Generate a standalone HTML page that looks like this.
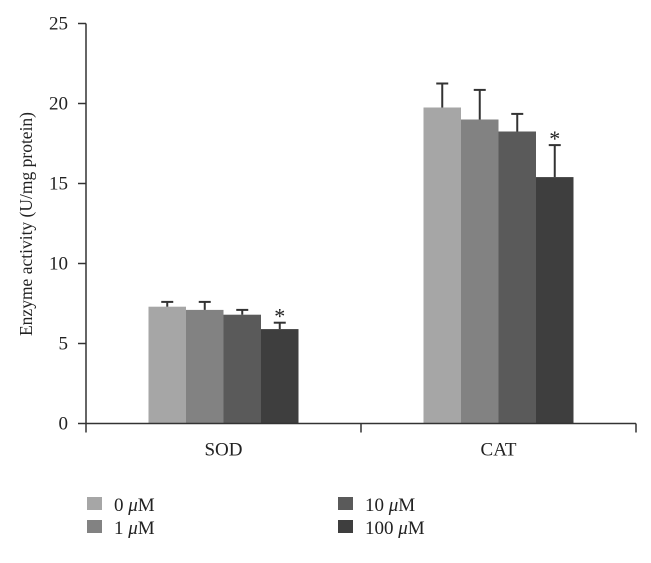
<!DOCTYPE html>
<html><head><meta charset="utf-8"><style>
body{margin:0;background:#fff;}
svg text{font-family:"Liberation Serif",serif;fill:#222;}
</style></head><body>
<svg id="c" width="651" height="558" xmlns="http://www.w3.org/2000/svg"></svg>
<script>
const categories=["SOD","CAT"];
const seriesNames=["0 ","1 ","10 ","100 "];
const seriesValues=[[7.3,19.75],[7.1,19.0],[6.8,18.25],[5.9,15.4]];
const errorValues=[[0.3,1.5],[0.5,1.85],[0.3,1.1],[0.4,2.0]];
const significant=[[false,false],[false,false],[false,false],[true,true]];
const yTicks=[0,5,10,15,20,25];
const colors=["#a6a6a6","#828282","#5a5a5a","#3e3e3e"];
const svg=document.getElementById('c');
const NS="http://www.w3.org/2000/svg";
const x0=86,x1=636,yZero=423.5,yTop=23.5,yMax=25;
const yS=v=>yZero-(yZero-yTop)*v/yMax;
const groupW=(x1-x0)/categories.length;
const barW=37.5;
function mk(t,a,p){const e=document.createElementNS(NS,t);for(const k in a)e.setAttribute(k,a[k]);(p||svg).appendChild(e);return e;}
categories.forEach((c,ci)=>{
  const cx=x0+groupW*(ci+0.5);
  const start=cx-barW*seriesNames.length/2;
  seriesValues.forEach((vals,si)=>{
    const v=vals[ci],bx=start+si*barW;
    const r=mk('rect',{x:bx,y:yS(v),width:barW,height:yZero-yS(v),fill:colors[si]});
    
    
    const ex=bx+barW/2,et=yS(v+errorValues[si][ci]);
    const g=mk('g',{stroke:'#333','stroke-width':2});
    
    
    mk('line',{x1:ex,x2:ex,y1:yS(v),y2:et},g);
    mk('line',{x1:ex-6,x2:ex+6,y1:et,y2:et},g);
    if(significant[si][ci]){
      const s=mk('text',{x:ex,y:et+1,'text-anchor':'middle','font-size':22});
      s.textContent='*';
      
      
    }
  });
  const t=mk('text',{x:cx,y:yZero+32,'text-anchor':'middle','font-size':19});
  t.textContent=c;
  
  
});
const ax=mk('g',{stroke:'#333','stroke-width':1.5,fill:'none'});


mk('line',{x1:x0,x2:x0,y1:yTop,y2:yZero},ax);
mk('line',{x1:x0,x2:x1,y1:yZero,y2:yZero},ax);
[0,1,2].forEach(i=>{const xx=x0+groupW*i;mk('line',{x1:xx,x2:xx,y1:yZero,y2:yZero+9},ax);});
yTicks.forEach(v=>{
  mk('line',{x1:x0-8,x2:x0,y1:yS(v),y2:yS(v)},ax);
  const t=mk('text',{x:68,y:yS(v)+6,'text-anchor':'end','font-size':19});
  t.textContent=v;
  
  
});
const yt=mk('text',{x:0,y:0,'text-anchor':'middle','font-size':17.5,transform:'translate(32,224) rotate(-90)'});
yt.textContent='Enzyme activity (U/mg protein)';


const pos=[[87,497],[87,520],[338,497],[338,520]];
seriesNames.forEach((n,i)=>{
  const g=mk('g',{});
  
  
  mk('rect',{x:pos[i][0],y:pos[i][1],width:15,height:13,fill:colors[i]},g);
  const t=mk('text',{x:pos[i][0]+27,y:pos[i][1]+14,'font-size':19},g);
  t.textContent=n;
  const m=mk('tspan',{'font-style':'italic'},t);m.textContent='μ';
  const M=mk('tspan',{},t);M.textContent='M';
});
</script>
</body></html>
